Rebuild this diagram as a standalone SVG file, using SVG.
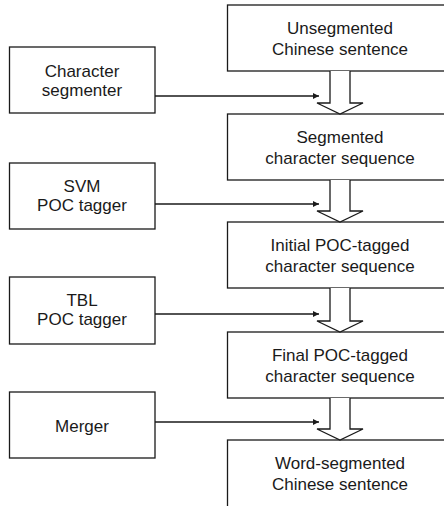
<svg xmlns="http://www.w3.org/2000/svg" width="444" height="506" viewBox="0 0 444 506">
  <style>
    .box { fill: #fff; stroke: #1a1a1a; stroke-width: 1.3; }
    .lbl { font-family: "Liberation Sans", Arial, sans-serif; font-size: 17px; fill: #1a1a1a; text-anchor: middle; }
    .link { fill: none; stroke: #1a1a1a; stroke-width: 1.3; }
    .flow { fill: #fff; stroke: #1a1a1a; stroke-width: 1.3; stroke-linejoin: miter; }
  </style>
  <defs>
    <marker id="arrow" viewBox="0 0 10 10" refX="10" refY="5" markerWidth="6" markerHeight="6" markerUnits="userSpaceOnUse" orient="auto">
      <path d="M0,0 L10,5 L0,10 z" fill="#1a1a1a"/>
    </marker>
  </defs>

  <!-- pipeline stages (right column) -->
  <g id="stage-unsegmented">
    <rect class="box" x="227.5" y="5" width="240" height="66"/>
    <text class="lbl" x="340" y="34">Unsegmented</text>
    <text class="lbl" x="340" y="55">Chinese sentence</text>
  </g>
  <g id="stage-segmented">
    <rect class="box" x="227.5" y="114" width="240" height="66"/>
    <text class="lbl" x="340" y="143">Segmented</text>
    <text class="lbl" x="340" y="164">character sequence</text>
  </g>
  <g id="stage-initial">
    <rect class="box" x="227.5" y="222" width="240" height="66"/>
    <text class="lbl" x="340" y="251">Initial POC-tagged</text>
    <text class="lbl" x="340" y="272">character sequence</text>
  </g>
  <g id="stage-final">
    <rect class="box" x="227.5" y="332" width="240" height="66"/>
    <text class="lbl" x="340" y="361">Final POC-tagged</text>
    <text class="lbl" x="340" y="382">character sequence</text>
  </g>
  <g id="stage-word">
    <rect class="box" x="227.5" y="440" width="240" height="80"/>
    <text class="lbl" x="340" y="469">Word-segmented</text>
    <text class="lbl" x="340" y="490">Chinese sentence</text>
  </g>

  <!-- processing modules (left column) -->
  <g id="mod-char-segmenter">
    <rect class="box" x="9.5" y="47" width="145.5" height="66"/>
    <text class="lbl" x="82" y="77">Character</text>
    <text class="lbl" x="82" y="96">segmenter</text>
  </g>
  <g id="mod-svm">
    <rect class="box" x="9.5" y="163" width="145.5" height="66"/>
    <text class="lbl" x="82" y="192">SVM</text>
    <text class="lbl" x="82" y="211">POC tagger</text>
  </g>
  <g id="mod-tbl">
    <rect class="box" x="9.5" y="277" width="145.5" height="67"/>
    <text class="lbl" x="82" y="306">TBL</text>
    <text class="lbl" x="82" y="325">POC tagger</text>
  </g>
  <g id="mod-merger">
    <rect class="box" x="9.5" y="392" width="145.5" height="66"/>
    <text class="lbl" x="82" y="432">Merger</text>
  </g>

  <!-- connectors -->
  <g id="connectors">
    <path class="flow" d="M330,71 V103 H317 L340,114 L363,103 H350 V71"/>
    <path class="flow" d="M330,180 V211 H317 L340,222 L363,211 H350 V180"/>
    <path class="flow" d="M330,288 V321 H317 L340,332 L363,321 H350 V288"/>
    <path class="flow" d="M330,398 V429 H317 L340,440 L363,429 H350 V398"/>

    <line class="link" x1="155" y1="96" x2="319" y2="96" marker-end="url(#arrow)"/>
    <line class="link" x1="155" y1="204" x2="319" y2="204" marker-end="url(#arrow)"/>
    <line class="link" x1="155" y1="314" x2="319" y2="314" marker-end="url(#arrow)"/>
    <line class="link" x1="155" y1="422" x2="319" y2="422" marker-end="url(#arrow)"/>
  </g>
</svg>
